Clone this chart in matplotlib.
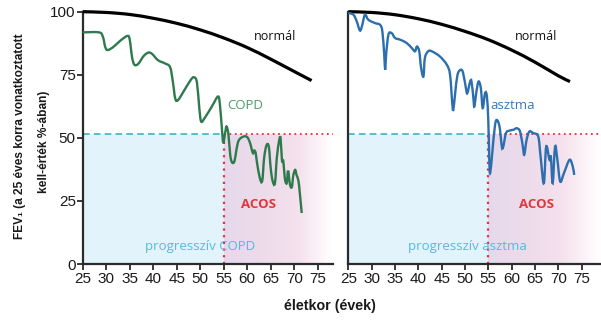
import numpy as np
import matplotlib
matplotlib.use("Agg")
import matplotlib.pyplot as plt
from matplotlib.path import Path
from matplotlib.patches import PathPatch

# ---- data -----------------------------------------------------------------
normal_left_age = [25, 30, 35, 40, 45, 50, 55, 60, 65, 70, 73.7]
normal_left_val = [100, 99.7, 98.9, 97.4, 95.4, 92.8, 89.6, 85.8, 81.2, 76.3, 72.7]

normal_right_age = [25, 30, 35, 40, 45, 50, 55, 60, 65, 70, 72.5]
normal_right_val = [100, 99.7, 98.8, 97.2, 95.0, 92.2, 88.9, 84.8, 80.0, 74.6, 72.3]

copd_age = [25, 28.5, 29.3, 29.8, 30.3, 31.5, 33, 34.5, 35, 35.5, 36, 36.8, 38, 39,
            39.8, 41, 42.5, 43.6, 44.2, 44.7, 45.3, 46.5, 48, 48.7, 49.3, 49.8, 50.2,
            51, 52.5, 53.8, 54.2, 54.6, 54.9, 55.3, 55.6, 56, 56.4, 56.8, 57.3, 57.7,
            58.2, 59.2, 60, 60.6, 61.2, 61.5, 61.8, 62.1, 62.7, 63.2, 63.6, 64.1, 64.6,
            65, 65.4, 65.9, 66.3, 66.8, 67.1, 67.4, 67.7, 68, 68.4, 68.7, 69.1, 69.5,
            69.8, 70.2, 70.5, 70.9, 71.2, 71.6]
copd_val = [91.8, 91.8, 90, 86, 84.8, 86, 88.5, 90.4, 89, 82, 79, 79.3, 82.5, 83.8,
            83.2, 80.8, 79.5, 78, 72, 65.5, 65, 68.5, 73, 74, 72, 62, 56.5,
            58, 62.5, 66.4, 63, 54, 48.2, 51.9, 54.5, 51.5, 43, 40.2, 40.8, 45.2,
            49, 50.5, 50.3, 48, 44, 45, 44, 40, 34, 33, 42, 47, 46.5,
            38, 33, 32, 42, 49, 49.9, 41, 40.6, 34, 32, 37, 31.5, 30.5,
            35, 37.3, 35.3, 33, 28, 20.2]

asthma_age = [25, 26.1, 26.8, 27.5, 28, 28.4, 28.7, 29.3, 30.7, 31.8, 32.3, 32.7, 32.9,
              33.1, 33.6, 34.3, 35, 36.1, 37.5, 38.6, 39.3, 39.7, 40.2, 40.6, 41.1,
              41.4, 42.1, 42.9, 44.6, 46.1, 46.8, 47.3, 47.5, 47.9, 48.4, 49.1, 49.6,
              50.2, 50.5, 51.1, 51.4, 51.8, 52, 52.4, 52.9, 53.4, 53.8, 54.3, 54.7,
              55, 55.2, 55.4, 55.9, 56.4, 56.8, 57.4, 57.9, 58.2, 58.8, 59.6, 60.4,
              61.1, 61.8, 62.4, 62.7, 63.2, 63.8, 64.6, 65.7, 66.2, 66.9, 67.4, 68.1,
              68.4, 68.8, 69.3, 69.8, 70.4, 71.2, 72.4, 73.1, 73.4]
asthma_val = [99.5, 98.8, 96.2, 92.5, 94.8, 98.1, 98.8, 96.8, 95.5, 94.8, 92.2, 82.9, 77,
              82.9, 90.9, 91.5, 89.6, 88.9, 87.6, 85.6, 84.3, 86.2, 84.3, 77.7, 74.3,
              81.6, 84.3, 84.3, 82.3, 79, 75, 63.1, 61.1, 67.7, 75, 77, 75.7,
              69.7, 67.7, 72.3, 72.3, 65.8, 62.4, 67.7, 72.3, 69.7, 61.8, 67.7, 66.4,
              56.5, 42, 36, 45.2, 54.5, 57.1, 54.5, 46.5, 46.5, 51.9, 52.9, 53.2,
              53.8, 52.5, 46.5, 43.3, 49.2, 52.5, 51.9, 50.5, 42.6, 32, 46.5, 41.3,
              42.6, 32, 46.5, 41.3, 32.7, 36, 41.3, 38.6, 35.3]

threshold = 51.5     # FEV1 level separating the shaded zones
onset_age = 55       # age where the ACOS zone starts

x_ticks = [25, 30, 35, 40, 45, 50, 55, 60, 65, 70, 75]
y_ticks = [0, 25, 50, 75, 100]

# ---- style ----------------------------------------------------------------
plt.rcParams['font.family'] = ['Liberation Sans', 'DejaVu Sans']
SPINE = '#2b2b2b'
TXT_FONT = ['Open Sans', 'DejaVu Sans']

W, H = 601, 323
fig = plt.figure(figsize=(W / 100, H / 100), dpi=100)


def smooth_curve(ax, xs, ys, **kw):
    """Draw a polyline through the points as a chain of cubic Bezier segments."""
    p = np.column_stack([xs, ys]).astype(float)
    n = len(p)
    verts = [p[0]]
    codes = [Path.MOVETO]
    for i in range(n - 1):
        p0 = p[i - 1] if i > 0 else p[i]
        p1, p2 = p[i], p[i + 1]
        p3 = p[i + 2] if i + 2 < n else p[i + 1]
        c1 = p1 + (p2 - p0) / 6.0
        c2 = p2 - (p3 - p1) / 6.0
        verts += [c1, c2, p2]
        codes += [Path.CURVE4] * 3
    patch = PathPatch(Path(verts, codes), facecolor='none', transform=ax.transData,
                      clip_on=False, **kw)
    ax.add_patch(patch)


def make_axes(x0_px, width_px, xmax):
    ax = fig.add_axes([x0_px / W, 59 / H, width_px / W, 252.3 / H])
    ax.set_xlim(25, xmax)
    ax.set_ylim(0, 100)
    for s in ('top', 'right'):
        ax.spines[s].set_visible(False)
    for s in ('left', 'bottom'):
        ax.spines[s].set_color(SPINE)
        ax.spines[s].set_linewidth(1.6)
    ax.set_xticks(x_ticks)
    ax.tick_params(axis='x', direction='out', length=4, width=1.3, color=SPINE,
                   labelsize=11, pad=2, labelcolor='#1a1a1a')
    return ax


def shade(ax, xmax):
    # blue block before onset
    ax.fill_between([25, onset_age], 0, threshold, color='#e2f3fb', lw=0, zorder=0)
    # lavender -> pink -> white block after onset
    n = 300
    xs = np.linspace(onset_age, xmax, n)
    stop_x = [onset_age, 63, 71, xmax - 1.5, xmax]
    stops = np.array([[0.900, 0.850, 0.925],
                      [0.930, 0.860, 0.920],
                      [0.960, 0.885, 0.930],
                      [1.0, 0.980, 0.99],
                      [1.0, 1.0, 1.0]])
    rgb = np.stack([np.interp(xs, stop_x, stops[:, k]) for k in range(3)], axis=-1)
    img = np.repeat(rgb[None, :, :], 2, axis=0)
    ax.imshow(img, extent=[onset_age, xmax, 0, threshold], aspect='auto',
              origin='lower', zorder=0, interpolation='bilinear')
    ax.plot([25, onset_age], [threshold, threshold], ls=(0, (4, 2.5)), color='#3fb3c4',
            lw=1.2, zorder=2)
    ax.plot([onset_age, xmax], [threshold, threshold], ls=(0, (1, 2)), color='#e2303c',
            lw=1.3, zorder=2)
    ax.plot([onset_age, onset_age], [0, threshold], ls=(0, (1, 2)), color='#e2303c',
            lw=1.6, zorder=2)


# ---- left panel: COPD ----------------------------------------------------
xmax_l = 78.2
axl = make_axes(82.7, (xmax_l - 25) * 4.7, xmax_l)
axl.set_yticks(y_ticks)
axl.tick_params(axis='y', direction='out', length=4, width=1.3, color=SPINE,
                labelsize=11, pad=1, labelcolor='#1a1a1a')
shade(axl, xmax_l)
smooth_curve(axl, normal_left_age, normal_left_val, edgecolor='black', lw=2.3,
             capstyle='butt', zorder=3)
smooth_curve(axl, copd_age, copd_val, edgecolor='#2e7a4c', lw=1.7, zorder=3)
axl.text(66, 90, 'normál', fontsize=9, family=TXT_FONT, color='#111111',
         ha='center', va='center')
axl.text(59.5, 62.7, 'COPD', fontsize=9.5, family=TXT_FONT, color='#4e9a6c',
         ha='center', va='center')
axl.text(62.4, 23.4, 'ACOS', fontsize=9.5, family=TXT_FONT, color='#e2363c',
         ha='center', va='center', fontweight='bold')
axl.text(50, 7, 'progresszív COPD', fontsize=9.5, family=TXT_FONT, color='#55bae0',
         ha='center', va='center')

# ---- right panel: asthma -------------------------------------------------
xmax_r = 79.2
axr = make_axes(348.3, (xmax_r - 25) * 4.667, xmax_r)
axr.set_yticks([])
shade(axr, xmax_r)
smooth_curve(axr, normal_right_age, normal_right_val, edgecolor='black', lw=2.3,
             capstyle='butt', zorder=3)
smooth_curve(axr, asthma_age, asthma_val, edgecolor='#2c6fae', lw=1.7, zorder=3)
axr.text(65.2, 90, 'normál', fontsize=9, family=TXT_FONT, color='#111111',
         ha='center', va='center')
axr.text(60.3, 62.7, 'asztma', fontsize=9.5, family=TXT_FONT, color='#3a78b4',
         ha='center', va='center')
axr.text(65.4, 23.4, 'ACOS', fontsize=9.5, family=TXT_FONT, color='#e2363c',
         ha='center', va='center', fontweight='bold')
axr.text(50.6, 7, 'progresszív asztma', fontsize=9.5, family=TXT_FONT, color='#55bae0',
         ha='center', va='center')

# ---- axis titles ---------------------------------------------------------
fig.text(20 / W, 1 - 136 / H, 'FEV₁ (a 25 éves korra vonatkoztatott', rotation=90,
         ha='center', va='center', fontsize=8.6, fontweight='bold', color='#1a1a1a')
fig.text(44 / W, 1 - 142 / H, 'kell-érték %-ában)', rotation=90,
         ha='center', va='center', fontsize=8.6, fontweight='bold', color='#1a1a1a')
fig.text(330 / W, 1 - 306 / H, 'életkor (évek)', ha='center', va='center',
         fontsize=10.3, fontweight='bold', color='#1a1a1a')

fig.savefig('out.png', dpi=100)
